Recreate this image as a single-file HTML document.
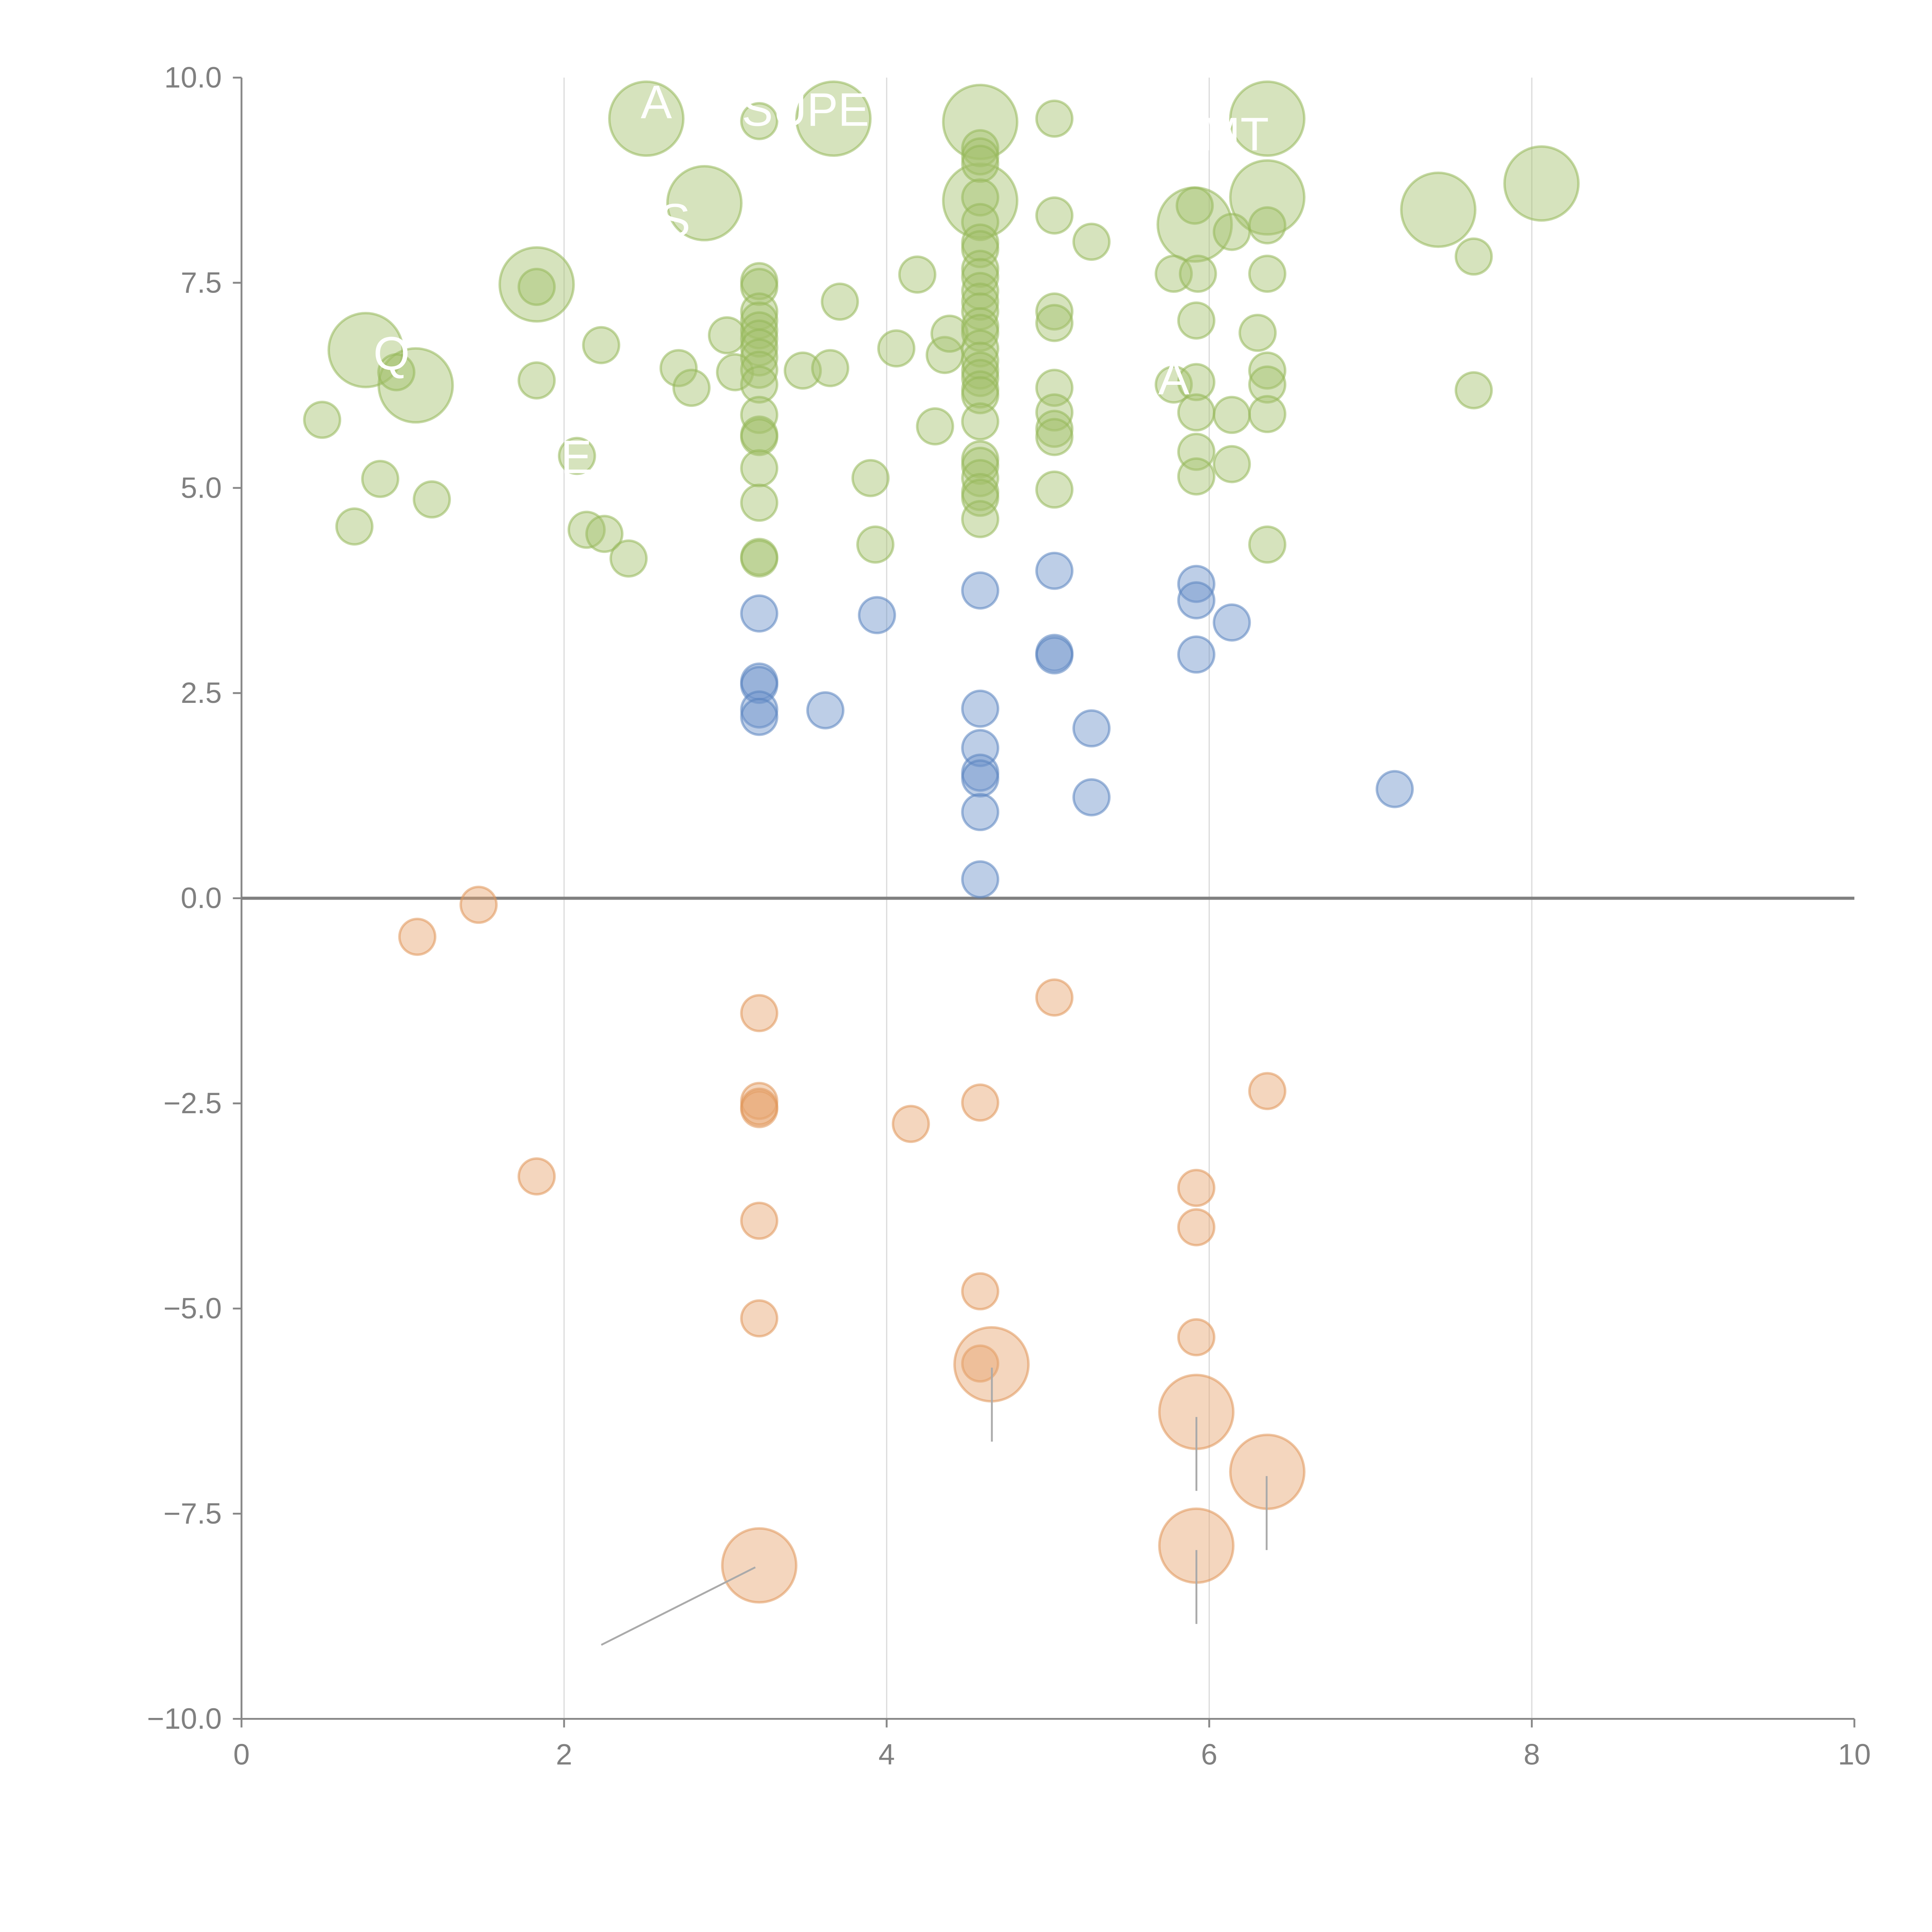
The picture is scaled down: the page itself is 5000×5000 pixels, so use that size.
<!DOCTYPE html>
<html><head><meta charset="utf-8"><style>
html,body{margin:0;padding:0;background:#fff;}
svg{display:block;font-family:"Liberation Sans",Arial,sans-serif;}
</style></head><body>
<svg id="chart" width="5000" height="5000" viewBox="0 0 1568 1568" xmlns="http://www.w3.org/2000/svg">
<g id="grid"></g>
<g id="axes"></g>
<g id="marks"></g>
<g id="labels"></g>
</svg>
<script>
// ---- data ----
const greenLargeX = [2.51,3.67,4.58,6.36,2.87,4.58,6.36,5.91,7.42,8.06,1.83,0.77,1.08];
const greenLargeY = [9.50,9.50,9.46,9.50,8.47,8.50,8.54,8.21,8.39,8.71,7.48,6.68,6.25];
const greenX = [3.21,5.04,0.50,0.86,0.70,1.18,0.96,1.83,1.83,2.23,2.08,2.14,2.25,2.40,2.71,2.79,3.01,3.06,
 3.21,3.21,3.21,3.21,3.21,3.21,3.21,3.21,3.21,3.21,3.21,3.21,3.21,3.21,3.21,3.21,3.21,
 3.48,3.65,3.71,3.90,3.93,4.06,4.19,4.30,4.36,4.39,
 4.58,4.58,4.58,4.58,4.58,4.58,4.58,4.58,4.58,4.58,4.58,4.58,4.58,4.58,4.58,4.58,4.58,4.58,4.58,4.58,4.58,4.58,4.58,4.58,4.58,4.58,4.58,
 5.04,5.04,5.04,5.04,5.04,5.04,5.04,5.04,5.27,5.78,5.78,5.91,5.93,
 5.92,5.92,5.92,5.92,5.92,6.14,6.14,6.14,6.30,6.36,6.36,6.36,6.36,6.36,6.36,7.64,7.64];
const greenY = [9.47,9.50,5.83,5.11,4.53,4.86,6.41,6.31,7.45,6.74,5.39,4.49,4.44,4.14,6.46,6.22,6.86,6.41,
 7.52,7.45,7.15,7.04,6.92,6.82,6.71,6.59,6.44,6.26,5.89,5.65,5.62,5.24,4.82,4.16,4.14,
 6.43,6.46,7.27,5.12,4.31,6.70,7.60,5.75,6.62,6.88,
 9.14,9.04,8.95,8.54,8.24,7.99,7.91,7.67,7.57,7.40,7.27,7.15,6.97,6.89,6.70,6.55,6.43,6.34,6.20,6.13,5.81,5.35,5.27,5.12,4.95,4.88,4.62,
 8.32,7.15,7.01,6.22,5.92,5.72,5.62,4.98,8.00,7.61,6.26,8.44,7.61,
 7.04,6.29,5.92,5.44,5.14,8.12,5.89,5.29,6.89,8.20,7.61,6.43,6.26,5.90,4.31,7.82,6.19];
const blueX = [3.21,3.21,3.21,3.21,3.21,3.62,3.94,4.58,4.58,4.58,4.58,4.58,4.58,4.58,5.04,5.04,5.04,5.27,5.27,5.92,5.92,5.92,6.14,7.15];
const blueY = [3.47,2.64,2.60,2.30,2.21,2.29,3.45,3.75,2.31,1.83,1.53,1.46,1.05,0.23,3.99,2.99,2.96,2.07,1.23,3.83,3.63,2.97,3.36,1.33];
const orangeX = [1.09,1.47,1.83,3.21,3.21,3.21,3.21,3.21,3.21,4.15,4.58,4.58,4.58,5.04,5.92,5.92,5.92,6.36];
const orangeY = [-0.47,-0.08,-3.39,-1.40,-2.47,-2.57,-2.54,-3.93,-5.12,-2.75,-2.49,-4.79,-5.67,-1.21,-3.53,-4.01,-5.35,-2.35];
const orangeLargeX = [4.65,5.92,6.36,5.92,3.21];
const orangeLargeY = [-5.68,-6.26,-6.99,-7.89,-8.13];
const xTicks = [0,2,4,6,8,10];
const yTicks = [10,7.5,5,2.5,0,-2.5,-5,-7.5,-10];
const yTickLabels = ["10.0","7.5","5.0","2.5","0.0","\u22122.5","\u22125.0","\u22127.5","\u221210.0"];

// ---- scales ----
const X0=196,X1=1505,Y0=1395,Y1=63;
const sx = v => X0 + (v-0)/(10-0)*(X1-X0);
const sy = v => Y0 - (v+10)/20*(Y0-Y1);
const NS="http://www.w3.org/2000/svg";
function mk(tag, parent, attrs){const e=document.createElementNS(NS,tag);for(const k in attrs)e.setAttribute(k,attrs[k]);parent.appendChild(e);return e;}
const grid=document.getElementById('grid'),axes=document.getElementById('axes'),marks=document.getElementById('marks'),labels=document.getElementById('labels');

xTicks.forEach(t=>{
  if(t>0&&t<10){const g=mk('line',grid,{x1:sx(t),x2:sx(t),y1:Y1,y2:Y0,stroke:'#dcdcdc','stroke-width':1});
  
  }
  const tk=mk('line',axes,{x1:sx(t),x2:sx(t),y1:Y0,y2:Y0+7,stroke:'#888','stroke-width':1.5});
  
  
  const tx=mk('text',axes,{x:sx(t),y:Y0+37,'text-anchor':'middle','font-size':24,fill:'#808080'});
  tx.textContent=t;
  
  
});
yTicks.forEach((t,i)=>{
  const tk=mk('line',axes,{x1:X0-7,x2:X0,y1:sy(t),y2:sy(t),stroke:'#888','stroke-width':1.5});
  
  
  const tx=mk('text',axes,{x:X0-16,y:sy(t)+8,'text-anchor':'end','font-size':24,fill:'#808080'});
  tx.textContent=yTickLabels[i];
  
  
});
const ya=mk('line',axes,{x1:X0,x2:X0,y1:Y1,y2:Y0,stroke:'#888','stroke-width':1.5});


const xa=mk('line',axes,{x1:X0,x2:X1,y1:Y0,y2:Y0,stroke:'#888','stroke-width':1.5});


const zl=mk('line',axes,{x1:X0,x2:X1,y1:sy(0),y2:sy(0),stroke:'#808080','stroke-width':2.5});



function drawSeries(xs,ys,r,fill,stroke,name){
  xs.forEach((x,i)=>{
    const c=mk('circle',marks,{cx:sx(x),cy:sy(ys[i]),r:r,fill:fill,'fill-opacity':0.45,stroke:stroke,'stroke-opacity':0.55,'stroke-width':2});
    
    
  });
}
drawSeries(greenLargeX,greenLargeY,30,'#a3c26c','#96b85a','green-bubble-large');
drawSeries(greenX,greenY,14.5,'#a3c26c','#96b85a','green-bubble');
drawSeries(blueX,blueY,14.5,'#6d93c9','#5a84c0','blue-bubble');
drawSeries(orangeX,orangeY,14.5,'#e6a46f','#e09558','orange-bubble');
drawSeries(orangeLargeX,orangeLargeY,30,'#e6a46f','#e09558','orange-bubble-large');

// leader lines for orange large bubbles
[[805,1110,805,1170],[971,1150,971,1210],[1028,1198,1028,1258],[971,1258,971,1318],[613,1272,488,1335]].forEach(l=>{
  const e=mk('line',labels,{x1:l[0],y1:l[1],x2:l[2],y2:l[3],stroke:'#aaa','stroke-width':1.5});
  
  
});
// white annotation labels
[["A",520,96],["SUPE",602,102],["S",535,192],["MT",975,122],["Q",303,300],["E",455,384],["A",940,320]].forEach(a=>{
  const t=mk('text',labels,{x:a[1],y:a[2],'font-size':38,fill:'#fff'});
  t.textContent=a[0];
  
  
});
</script>
</body></html>
